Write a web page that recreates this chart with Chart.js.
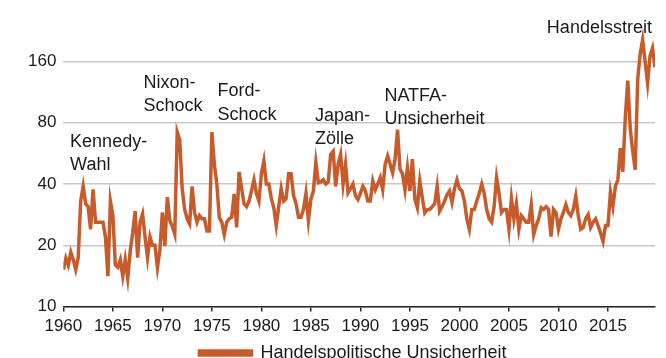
<!DOCTYPE html>
<html>
<head>
<meta charset="utf-8">
<script src="https://cdn.jsdelivr.net/npm/chart.js@4.4.0/dist/chart.umd.min.js"></script>
<style>
  html, body { margin: 0; padding: 0; background: #fff; overflow: hidden; }
  #wrap { width: 666px; height: 372px; position: relative; }
</style>
</head>
<body>
<div id="wrap"><canvas id="chart"></canvas></div>
<script>
// quarterly index values (log scale)
const u1960s = [15.2, 17.3, 16, 18.5, 17, 15.2, 17.4, 33, 39, 32, 31, 24, 37.7, 26, 26, 26,
  26, 22, 14.1, 33, 28, 16, 15.6, 17, 14.1, 17, 13.8, 18.7, 23, 29.5, 17.4, 26,
  28.5, 22, 17.4, 22, 20, 20, 15.5, 19];
const u1970s = [29, 19.8, 34.5, 26.5, 24.8, 22.7, 72, 66, 38, 30, 27, 25.5, 39, 29, 26, 28,
  27, 27, 23.5, 23.5, 72, 50, 40, 27.3, 26, 22.6, 26, 27, 27.5, 35.8, 24.5, 45.9,
  38, 32, 31, 33, 37, 42, 36, 33];
const u1980s = [45, 52, 40, 40, 34, 30.6, 25, 31, 38, 33, 34, 45, 45, 35, 32, 27.5,
  27.5, 30, 36, 26.5, 33.7, 37, 51, 40.6, 41, 42, 40, 41, 56, 58, 39, 50,
  56, 40, 50, 36.2, 38, 40, 35, 33.6];
const u1990s = [36, 39, 37, 33, 33, 41.4, 37.5, 40, 43, 37.5, 50, 55, 50, 45.4, 53, 74,
  47.3, 45, 37.5, 48, 37, 53, 33.6, 30.6, 41.4, 34.4, 28.9, 30, 30, 31, 32, 39,
  29.4, 31, 33, 35.5, 37, 32.5, 38, 42];
const u2000s = [38, 37, 33, 27, 24, 30, 30, 33, 36, 40, 36, 30, 27, 26, 31, 43,
  36, 29, 30, 30, 24, 34, 27, 32, 24, 28, 27, 26, 26, 31.7, 22.6, 25,
  27, 30.6, 30, 31, 30, 22.1, 30, 29];
const u2010s = [24, 27, 29, 31.7, 29, 28, 30, 34.9, 28, 24, 24.5, 27, 28.3, 24.5, 26, 27,
  25, 23, 20.9, 25, 25, 36.5, 31, 39, 42, 60, 46, 85, 129, 75, 58, 47,
  130, 174, 205, 160, 125, 170, 186, 150];

const firstYear = 1960;
const xTicks = [1960, 1965, 1970, 1975, 1980, 1985, 1990, 1995, 2000, 2005, 2010, 2015];
const yTicks = [10, 20, 40, 80, 160];
const seriesName = 'Handelspolitische Unsicherheit';

const notes = [
  { lines: ['Kennedy-', 'Wahl'], year: 1960.68, value: 60.8 },
  { lines: ['Nixon-', 'Schock'], year: 1968.09, value: 119 },
  { lines: ['Ford-', 'Schock'], year: 1975.56, value: 108 },
  { lines: ['Japan-', 'Zölle'], year: 1985.42, value: 81.6 },
  { lines: ['NATFA-', 'Unsicherheit'], year: 1992.42, value: 102.5 },
  { lines: ['Handelsstreit'], year: 2008.83, value: 222 }
];

const values = [].concat(u1960s, u1970s, u1980s, u1990s, u2000s, u2010s);
const points = values.map((v, i) => ({ x: firstYear + i / 4, y: v }));

const FONT = "'Liberation Sans', Arial, sans-serif";
const ORANGE = '#C75B2C';

const notesPlugin = {
  id: 'notes',
  afterLayout(chart) {
    // legend sits a bit right of the canvas centre in the original
    chart.legend.left += 15;
    chart.legend.right += 15;
  },
  afterDatasetsDraw(chart) {
    const ctx = chart.ctx;
    const xs = chart.scales.x, ys = chart.scales.y;
    ctx.save();
    ctx.fillStyle = '#1a1a1a';
    ctx.font = '18px ' + FONT;
    ctx.textAlign = 'left';
    ctx.textBaseline = 'alphabetic';
    notes.forEach(n => {
      const px = xs.getPixelForValue(n.year);
      const py = ys.getPixelForValue(n.value);
      n.lines.forEach((t, k) => ctx.fillText(t, px, py + k * 23.4));
    });
    ctx.restore();
  }
};

new Chart(document.getElementById('chart'), {
  type: 'line',
  data: {
    datasets: [{
      label: seriesName,
      data: points,
      borderColor: ORANGE,
      backgroundColor: ORANGE,
      borderWidth: 3.5,
      pointRadius: 0,
      tension: 0,
      fill: false
    }]
  },
  options: {
    responsive: true,
    maintainAspectRatio: false,
    animation: false,
    layout: { padding: { left: 21, right: 11, top: 20, bottom: 0 } },
    plugins: {
      legend: {
        position: 'bottom',
        labels: {
          boxWidth: 52,
          boxHeight: 4,
          padding: 2,
          color: '#1a1a1a',
          font: { family: FONT, size: 18 }
        }
      },
      tooltip: { enabled: false }
    },
    scales: {
      x: {
        type: 'linear',
        min: 1960,
        max: 2019.75,
        afterBuildTicks: s => { s.ticks = xTicks.map(v => ({ value: v })); },
        ticks: {
          color: '#1a1a1a',
          font: { family: FONT, size: 17 },
          padding: 5,
          maxRotation: 0,
          autoSkip: false,
          callback: v => String(v)
        },
        grid: { drawOnChartArea: false, drawTicks: true, tickLength: 5, color: '#222', lineWidth: 1.5 },
        border: { display: true, color: '#222', width: 1.5 }
      },
      y: {
        type: 'logarithmic',
        min: 10,
        max: 256,
        afterBuildTicks: s => { s.ticks = yTicks.map(v => ({ value: v })); },
        ticks: {
          color: '#1a1a1a',
          font: { family: FONT, size: 17 },
          padding: 7,
          autoSkip: false,
          callback: v => String(v)
        },
        grid: { drawTicks: false, color: '#c8c8c8', lineWidth: 1.5 },
        border: { display: false }
      }
    }
  },
  plugins: [notesPlugin]
});
</script>
</body>
</html>
